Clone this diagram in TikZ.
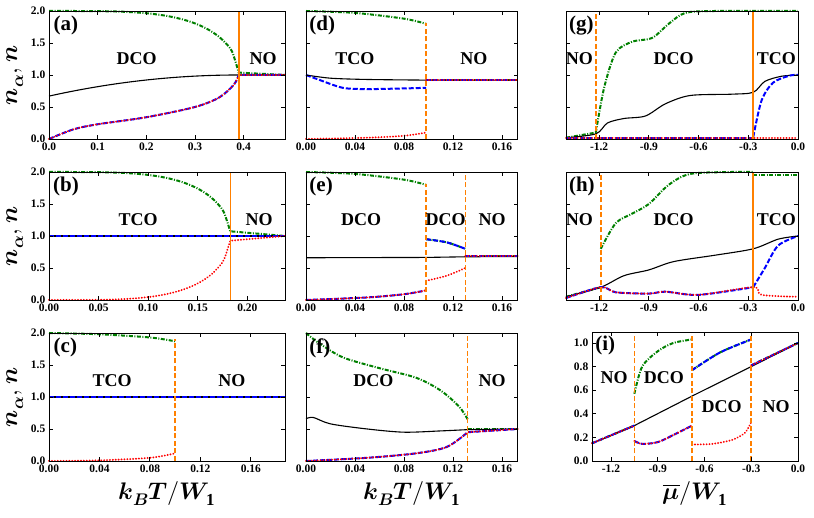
\documentclass[tikz,border=0pt]{standalone}
\usepackage{fontspec}
\setmainfont{Liberation Serif}
\usepackage{unicode-math}
\setmathfont{Latin Modern Math}
\pgfkeys{/pgf/number format/assume math mode=true}
\begin{document}
\begin{tikzpicture}[x=1pt,y=1pt,
  gr/.style={draw=green!50!black,line width=2pt,dash pattern=on 4pt off 1.5pt on 1pt off 1.5pt},
  bl/.style={draw=blue,line width=2pt,dash pattern=on 5pt off 2pt},
  rd/.style={draw=red,line width=2pt,dash pattern=on 0.1pt off 2.8pt,line cap=round},
  bk/.style={draw=black,line width=1.1pt},
  ov/.style={draw=orange,line width=1.5pt},
  od/.style={draw=orange,line width=1.5pt,dash pattern=on 5pt off 2.5pt},
  axis/.style={draw=black,line width=0.9pt},
  phase/.style={font=\bfseries\fontsize{18}{18}\selectfont},
  tag/.style={font=\bfseries\fontsize{21}{21}\selectfont,anchor=north west,inner sep=2pt},
  tick/.style={font=\bfseries\fontsize{11.5}{11.5}\selectfont,inner sep=3.5pt}]
\useasboundingbox (0,0) rectangle (814,518);

% ---- (a)
\begin{scope}[shift={(49,379)},x=486.6pt,y=64pt]
\draw[gr] plot[smooth,domain=0:0.39,samples=30] (\x,{1+sqrt(1-(\x/0.39)^4)}) -- (0.485,1);
\draw[bk] plot[smooth,domain=0:0.39,samples=20] (\x,{0.67+0.33*(1-(1-\x/0.39)^2)}) -- (0.485,1);
\draw[bl] plot[smooth] coordinates {(0,0) (0.05,0.15) (0.1,0.23) (0.2,0.34) (0.3,0.5) (0.35,0.65) (0.38,0.85) (0.39,1)} -- (0.485,1);
\draw[rd] plot[smooth] coordinates {(0,0) (0.05,0.15) (0.1,0.23) (0.2,0.34) (0.3,0.5) (0.35,0.65) (0.38,0.85) (0.39,1)} -- (0.485,1);
\draw[ov] (0.39,0) -- (0.39,2);
\node[phase] (a dco) at (0.18,1.25) {DCO};
\node[phase] (a no) at (0.44,1.25) {NO};
\node[tag] (a tag) at (0.005,1.95) {(a)};
\draw[axis] (0,0) rectangle (0.485,2);
\foreach \v in {0,0.1,...,0.41} {\draw[axis] (\v,0) -- ++(0,4pt); \draw[axis] (\v,2) -- ++(0,-4pt);
  \node[tick,below] at (\v,0) {\pgfmathprintnumber[fixed,precision=1,zerofill]{\v}};}
\foreach \v in {0,0.5,...,2} {\draw[axis] (0,\v) -- ++(4pt,0); \draw[axis] (0.485,\v) -- ++(-4pt,0);
  \node[tick,left] at (0,\v) {\pgfmathprintnumber[fixed,precision=1,zerofill]{\v}};}
\end{scope}

% ---- (b)
\begin{scope}[shift={(49,218)},x=991.6pt,y=64pt]
\draw[gr] plot[smooth,domain=0:0.183,samples=30] (\x,{1+sqrt(1-(\x/0.183)^4)}) -- (0.238,1);
\draw[bk] (0,1) -- (0.238,1);
\draw[bl] (0,1) -- (0.238,1);
\draw[rd] plot[smooth,domain=0:0.183,samples=30] (\x,{1-sqrt(1-(\x/0.183)^4)}) -- (0.238,1);
\draw[ov] (0.183,0) -- (0.183,2);
\node[phase] (b tco) at (0.09,1.25) {TCO};
\node[phase] (b no) at (0.212,1.25) {NO};
\node[tag] (b tag) at (0.002,1.95) {(b)};
\draw[axis] (0,0) rectangle (0.238,2);
\foreach \v in {0,0.05,...,0.21} {\draw[axis] (\v,0) -- ++(0,4pt); \draw[axis] (\v,2) -- ++(0,-4pt);
  \node[tick,below] at (\v,0) {\pgfmathprintnumber[fixed,precision=2,zerofill]{\v}};}
\foreach \v in {0,0.5,...,2} {\draw[axis] (0,\v) -- ++(4pt,0); \draw[axis] (0.238,\v) -- ++(-4pt,0);
  \node[tick,left] at (0,\v) {\pgfmathprintnumber[fixed,precision=1,zerofill]{\v}};}
\end{scope}

% ---- (c)
\begin{scope}[shift={(49,57)},x=1262pt,y=64pt]
\draw[gr] plot[smooth] coordinates {(0,2) (0.04,1.98) (0.08,1.93) (0.1,1.87)};
\draw[gr] (0.1,1) -- (0.187,1);
\draw[bk] (0,1) -- (0.187,1);
\draw[bl] (0,1) -- (0.187,1);
\draw[rd] plot[smooth] coordinates {(0,0) (0.04,0.01) (0.08,0.05) (0.1,0.12)};
\draw[od] (0.1,0) -- (0.1,1.9);
\node[phase] (c tco) at (0.05,1.25) {TCO};
\node[phase] (c no) at (0.145,1.25) {NO};
\node[tag] (c tag) at (0.002,1.95) {(c)};
\draw[axis] (0,0) rectangle (0.187,2);
\foreach \v in {0,0.04,...,0.17} {\draw[axis] (\v,0) -- ++(0,4pt); \draw[axis] (\v,2) -- ++(0,-4pt);
  \node[tick,below] at (\v,0) {\pgfmathprintnumber[fixed,precision=2,zerofill]{\v}};}
\foreach \v in {0,0.5,...,2} {\draw[axis] (0,\v) -- ++(4pt,0); \draw[axis] (0.187,\v) -- ++(-4pt,0);
  \node[tick,left] at (0,\v) {\pgfmathprintnumber[fixed,precision=1,zerofill]{\v}};}
\end{scope}

% ---- (d)
\begin{scope}[shift={(306,379)},x=1225pt,y=64pt]
\draw[gr] plot[smooth] coordinates {(0,2) (0.04,1.97) (0.08,1.88) (0.098,1.8)};
\draw[gr] (0.098,0.92) -- (0.173,0.92);
\draw[bk] plot[smooth] coordinates {(0,1) (0.02,0.95) (0.05,0.93) (0.098,0.92)} -- (0.173,0.92);
\draw[bl] plot[smooth] coordinates {(0,1) (0.01,0.93) (0.03,0.8) (0.05,0.78) (0.08,0.79) (0.098,0.8)};
\draw[bl] (0.098,0.92) -- (0.173,0.92);
\draw[rd] plot[smooth] coordinates {(0,0) (0.05,0.02) (0.08,0.05) (0.098,0.1)};
\draw[rd] (0.098,0.92) -- (0.173,0.92);
\draw[od] (0.098,0) -- (0.098,1.82);
\node[phase] (d tco) at (0.04,1.25) {TCO};
\node[phase] (d no) at (0.137,1.25) {NO};
\node[tag] (d tag) at (0.001,1.95) {(d)};
\draw[axis] (0,0) rectangle (0.173,2);
\foreach \v in {0,0.04,...,0.17} {\draw[axis] (\v,0) -- ++(0,4pt); \draw[axis] (\v,2) -- ++(0,-4pt);
  \node[tick,below] at (\v,0) {\pgfmathprintnumber[fixed,precision=2,zerofill]{\v}};}
\foreach \v in {0,0.5,...,2} {\draw[axis] (0,\v) -- ++(4pt,0); \draw[axis] (0.173,\v) -- ++(-4pt,0);}
\end{scope}

% ---- (e)
\begin{scope}[shift={(306,218)},x=1225pt,y=64pt]
\draw[gr] plot[smooth] coordinates {(0,2) (0.04,1.97) (0.08,1.88) (0.098,1.8)};
\draw[gr] plot[smooth] coordinates {(0.098,0.95) (0.115,0.9) (0.13,0.8)};
\draw[gr] (0.13,0.68) -- (0.173,0.68);
\draw[bk] (0,0.66) -- (0.098,0.665) -- (0.13,0.675) -- (0.173,0.68);
\draw[bl] plot[smooth] coordinates {(0,0) (0.05,0.04) (0.08,0.09) (0.098,0.15)};
\draw[bl] plot[smooth] coordinates {(0.098,0.95) (0.115,0.9) (0.13,0.8)};
\draw[bl] (0.13,0.68) -- (0.173,0.68);
\draw[rd] plot[smooth] coordinates {(0,0) (0.05,0.04) (0.08,0.09) (0.098,0.15)};
\draw[rd] plot[smooth] coordinates {(0.098,0.3) (0.115,0.38) (0.13,0.5)};
\draw[rd] (0.13,0.68) -- (0.173,0.68);
\draw[od] (0.098,0) -- (0.098,1.82);
\draw[od] (0.13,0) -- (0.13,2);
\node[phase] (e dco1) at (0.045,1.25) {DCO};
\node[phase] (e dco2) at (0.114,1.25) {DCO};
\node[phase] (e no) at (0.152,1.25) {NO};
\node[tag] (e tag) at (0.001,1.95) {(e)};
\draw[axis] (0,0) rectangle (0.173,2);
\foreach \v in {0,0.04,...,0.17} {\draw[axis] (\v,0) -- ++(0,4pt); \draw[axis] (\v,2) -- ++(0,-4pt);
  \node[tick,below] at (\v,0) {\pgfmathprintnumber[fixed,precision=2,zerofill]{\v}};}
\foreach \v in {0,0.5,...,2} {\draw[axis] (0,\v) -- ++(4pt,0); \draw[axis] (0.173,\v) -- ++(-4pt,0);}
\end{scope}

% ---- (f)
\begin{scope}[shift={(306,57)},x=1225pt,y=64pt]
\draw[gr] plot[smooth] coordinates {(0,2) (0.01,1.85) (0.03,1.62) (0.06,1.45) (0.09,1.3) (0.11,1.1) (0.125,0.85) (0.132,0.65)};
\draw[gr] (0.132,0.5) -- (0.173,0.5);
\draw[bk] plot[smooth] coordinates {(0,0.66) (0.006,0.68) (0.02,0.58) (0.05,0.5) (0.08,0.45) (0.11,0.47) (0.132,0.49)} -- (0.173,0.5);
\draw[bl] plot[smooth] coordinates {(0,0) (0.05,0.05) (0.09,0.12) (0.115,0.22) (0.132,0.45)} -- (0.173,0.5);
\draw[rd] plot[smooth] coordinates {(0,0) (0.05,0.05) (0.09,0.12) (0.115,0.22) (0.132,0.45)} -- (0.173,0.5);
\draw[od] (0.132,0) -- (0.132,2);
\node[phase] (f dco) at (0.055,1.25) {DCO};
\node[phase] (f no) at (0.152,1.25) {NO};
\node[tag] (f tag) at (0.001,1.95) {(f)};
\draw[axis] (0,0) rectangle (0.173,2);
\foreach \v in {0,0.04,...,0.17} {\draw[axis] (\v,0) -- ++(0,4pt); \draw[axis] (\v,2) -- ++(0,-4pt);
  \node[tick,below] at (\v,0) {\pgfmathprintnumber[fixed,precision=2,zerofill]{\v}};}
\foreach \v in {0,0.5,...,2} {\draw[axis] (0,\v) -- ++(4pt,0); \draw[axis] (0.173,\v) -- ++(-4pt,0);}
\end{scope}

% ---- (g)
\begin{scope}[shift={(566,379)},x=165.7pt,y=64pt]
\begin{scope}[shift={(1.4,0)}]
\draw[gr] (-1.4,0.02) -- (-1.22,0.1);
\draw[gr] plot[smooth] coordinates {(-1.22,0.1) (-1.17,0.8) (-1.1,1.35) (-1.0,1.52) (-0.88,1.58) (-0.78,1.8) (-0.68,1.97) (-0.5,2) (0,2)};
\draw[bk] plot[smooth] coordinates {(-1.4,0.02) (-1.22,0.08) (-1.15,0.25) (-1.05,0.32) (-0.92,0.36) (-0.8,0.55) (-0.65,0.68) (-0.4,0.7) (-0.27,0.73) (-0.2,0.9) (-0.1,0.98) (0,1)};
\draw[bl] (-1.4,0.02) -- (-0.27,0.02);
\draw[bl] plot[smooth] coordinates {(-0.27,0.03) (-0.22,0.6) (-0.15,0.88) (-0.05,0.99) (0,1)};
\draw[rd] (-1.4,0.02) -- (0,0.02);
\draw[od] (-1.22,0) -- (-1.22,2);
\draw[ov] (-0.27,0) -- (-0.27,2);
\node[phase] (g no) at (-1.32,1.25) {NO};
\node[phase] (g dco) at (-0.75,1.25) {DCO};
\node[phase] (g tco) at (-0.13,1.25) {TCO};
\node[tag] (g tag) at (-1.395,1.95) {(g)};
\draw[axis] (-1.4,0) rectangle (0,2);
\foreach \v in {-1.2,-0.9,...,0.01} {\draw[axis] (\v,0) -- ++(0,4pt); \draw[axis] (\v,2) -- ++(0,-4pt);
  \node[tick,below] at (\v,0) {\pgfmathprintnumber[fixed,precision=1,zerofill]{\v}};}
\foreach \v in {0,0.5,...,2} {\draw[axis] (-1.4,\v) -- ++(4pt,0); \draw[axis] (0,\v) -- ++(-4pt,0);}
\end{scope}
\end{scope}

% ---- (h)
\begin{scope}[shift={(566,218)},x=165.7pt,y=64pt]
\begin{scope}[shift={(1.4,0)}]
\draw[gr] (-1.4,0.05) -- (-1.19,0.2);
\draw[gr] plot[smooth] coordinates {(-1.19,0.8) (-1.1,1.2) (-1.0,1.35) (-0.9,1.5) (-0.78,1.8) (-0.65,1.97) (-0.4,2) (-0.27,2)};
\draw[gr] (-0.27,1.95) -- (0,1.95);
\draw[bk] plot[smooth] coordinates {(-1.4,0.05) (-1.19,0.2) (-1.05,0.38) (-0.9,0.47) (-0.75,0.6) (-0.5,0.7) (-0.27,0.8) (-0.12,0.95) (0,1)};
\draw[bl] plot[smooth] coordinates {(-1.4,0.03) (-1.19,0.2) (-1.1,0.12) (-0.9,0.1) (-0.8,0.13) (-0.6,0.08) (-0.27,0.2)};
\draw[bl] plot[smooth] coordinates {(-0.27,0.2) (-0.2,0.5) (-0.12,0.85) (0,1)};
\draw[rd] plot[smooth] coordinates {(-1.4,0.03) (-1.19,0.2) (-1.1,0.12) (-0.9,0.1) (-0.8,0.13) (-0.6,0.08) (-0.27,0.2) (-0.22,0.08) (0,0.05)};
\draw[od] (-1.19,0) -- (-1.19,2);
\draw[ov] (-0.27,0) -- (-0.27,2);
\node[phase] (h no) at (-1.32,1.25) {NO};
\node[phase] (h dco) at (-0.75,1.25) {DCO};
\node[phase] (h tco) at (-0.13,1.25) {TCO};
\node[tag] (h tag) at (-1.395,1.95) {(h)};
\draw[axis] (-1.4,0) rectangle (0,2);
\foreach \v in {-1.2,-0.9,...,0.01} {\draw[axis] (\v,0) -- ++(0,4pt); \draw[axis] (\v,2) -- ++(0,-4pt);
  \node[tick,below] at (\v,0) {\pgfmathprintnumber[fixed,precision=1,zerofill]{\v}};}
\foreach \v in {0,0.5,...,2} {\draw[axis] (-1.4,\v) -- ++(4pt,0); \draw[axis] (0,\v) -- ++(-4pt,0);}
\end{scope}
\end{scope}

% ---- (i)
\begin{scope}[shift={(592,57)},x=155.8pt,y=118pt]
\begin{scope}[shift={(1.322,0)}]
\draw[gr] (-1.322,0.15) -- (-1.05,0.3);
\draw[gr] plot[smooth] coordinates {(-1.05,0.57) (-1.0,0.8) (-0.9,0.93) (-0.8,1.0) (-0.68,1.03)};
\draw[gr] plot[smooth] coordinates {(-0.68,0.77) (-0.5,0.92) (-0.3,1.03)};
\draw[gr] (-0.3,0.81) -- (0,1);
\draw[bk] (-1.322,0.15) -- (-1.05,0.3) -- (-0.68,0.55) -- (-0.3,0.8) -- (0,1);
\draw[bl] (-1.322,0.15) -- (-1.05,0.3);
\draw[bl] plot[smooth] coordinates {(-1.05,0.17) (-1.0,0.145) (-0.9,0.16) (-0.8,0.22) (-0.68,0.3)};
\draw[bl] plot[smooth] coordinates {(-0.68,0.77) (-0.5,0.92) (-0.3,1.03)};
\draw[bl] (-0.3,0.81) -- (0,1);
\draw[rd] (-1.322,0.15) -- (-1.05,0.3);
\draw[rd] plot[smooth] coordinates {(-1.05,0.17) (-1.0,0.145) (-0.9,0.16) (-0.8,0.22) (-0.68,0.3)};
\draw[rd] plot[smooth] coordinates {(-0.68,0.14) (-0.55,0.145) (-0.42,0.18) (-0.34,0.24) (-0.3,0.33)};
\draw[rd] (-0.3,0.81) -- (0,1);
\draw[od] (-1.05,0) -- (-1.05,1.093);
\draw[od] (-0.68,0) -- (-0.68,1.093);
\draw[od] (-0.3,0) -- (-0.3,1.093);
\node[phase] (i no1) at (-1.18,0.71) {NO};
\node[phase] (i dco1) at (-0.86,0.71) {DCO};
\node[phase] (i dco2) at (-0.49,0.46) {DCO};
\node[phase] (i no2) at (-0.14,0.46) {NO};
\node[tag] (i tag) at (-1.315,1.08) {(i)};
\draw[axis] (-1.322,0) rectangle (0,1.093);
\foreach \v in {-1.2,-0.9,...,0.01} {\draw[axis] (\v,0) -- ++(0,4pt); \draw[axis] (\v,1.093) -- ++(0,-4pt);
  \node[tick,below] at (\v,0) {\pgfmathprintnumber[fixed,precision=1,zerofill]{\v}};}
\foreach \v in {0,0.2,...,1.01} {\draw[axis] (-1.322,\v) -- ++(4pt,0); \draw[axis] (0,\v) -- ++(-4pt,0);
  \node[tick,left] at (-1.322,\v) {\pgfmathprintnumber[fixed,precision=1,zerofill]{\v}};}
\end{scope}
\end{scope}

% ---- axis titles
\foreach \yy/\nm in {443/r1,282/r2,121/r3}
  \node[rotate=90,font=\fontsize{24}{24}\selectfont] (ylab \nm) at (15,\yy) {$\symbfit{n}_{\symbfit{\alpha}}\mathbf{,}\ \symbfit{n}$};
\node[font=\fontsize{24}{24}\selectfont] (xlab 1) at (167,24) {$\symbfit{k}_{\symbfit{B}}\symbfit{T}\mathbf{/}\symbfit{W}_{\mathbf{1}}$};
\node[font=\fontsize{24}{24}\selectfont] (xlab 2) at (412,24) {$\symbfit{k}_{\symbfit{B}}\symbfit{T}\mathbf{/}\symbfit{W}_{\mathbf{1}}$};
\node[font=\fontsize{24}{24}\selectfont] (xlab 3) at (695,24) {$\overline{\symbfit{\mu}}\mathbf{/}\symbfit{W}_{\mathbf{1}}$};
\end{tikzpicture}
\end{document}
